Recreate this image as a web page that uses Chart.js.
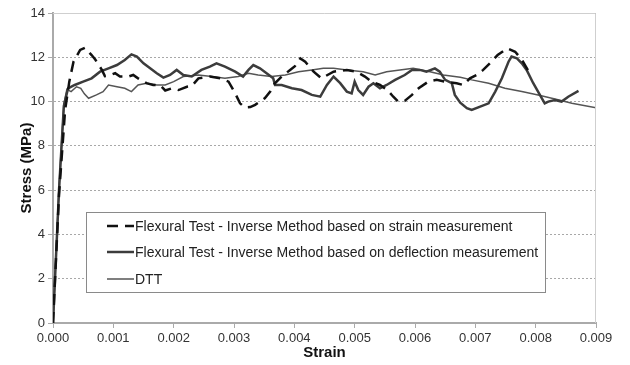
<!DOCTYPE html>
<html>
<head>
<meta charset="utf-8">
<script src="https://cdn.jsdelivr.net/npm/chart.js@4"></script>
<style>
  body { margin: 0; background: #fff; }
  #wrap { width: 630px; height: 365px; }
</style>
</head>
<body>
<div id="wrap"><canvas id="chart" width="630" height="365"></canvas></div>
<script>
const strainX = [0, 0.0001, 0.0002, 0.00027, 0.00034, 0.00045, 0.00053, 0.00064, 0.0007, 0.00081, 0.00086, 0.00095, 0.00103, 0.00111, 0.00125, 0.00133, 0.00141, 0.00155, 0.00166, 0.00177, 0.00186, 0.00197, 0.00208, 0.00222, 0.0023, 0.00241, 0.0026, 0.00277, 0.00291, 0.00302, 0.0031, 0.00318, 0.00327, 0.00335, 0.00351, 0.0036, 0.00367, 0.00378, 0.00393, 0.00401, 0.0041, 0.00418, 0.00432, 0.00445, 0.00465, 0.00487, 0.00503, 0.00517, 0.00528, 0.00542, 0.00555, 0.00564, 0.00572, 0.00583, 0.00595, 0.00606, 0.00622, 0.00636, 0.00653, 0.00669, 0.0068, 0.00691, 0.00702, 0.00713, 0.00724, 0.00737, 0.00753, 0.00766, 0.00777, 0.00788];
const strainY = [0, 5.8, 9.6, 10.9, 11.8, 12.33, 12.43, 12.1, 11.9, 11.43, 11.15, 11.2, 11.28, 11.13, 11.13, 11.2, 11.05, 10.83, 10.75, 10.75, 10.5, 10.6, 10.52, 10.67, 10.7, 11.05, 11.13, 11.05, 10.9, 10.37, 9.92, 9.73, 9.75, 9.85, 10.15, 10.45, 10.8, 11.1, 11.43, 11.6, 11.95, 11.8, 11.35, 11.05, 11.35, 11.43, 11.35, 11.13, 10.9, 10.75, 10.5, 10.22, 10.0, 10.03, 10.3, 10.6, 10.9, 10.98, 10.88, 10.83, 10.75, 11.05, 11.2, 11.43, 11.73, 12.1, 12.4, 12.25, 11.9, 11.38];

const deflX = [0, 0.0001, 0.00018, 0.00025, 0.00036, 0.0005, 0.00064, 0.00078, 0.00092, 0.00106, 0.00119, 0.0013, 0.00139, 0.0015, 0.00161, 0.00172, 0.00183, 0.00194, 0.00205, 0.00216, 0.0023, 0.00246, 0.0026, 0.00271, 0.00285, 0.00302, 0.00315, 0.00324, 0.00332, 0.00343, 0.00354, 0.00365, 0.00368, 0.00379, 0.00396, 0.00412, 0.00429, 0.00443, 0.00454, 0.00465, 0.00476, 0.00487, 0.00495, 0.005, 0.00506, 0.00514, 0.00523, 0.00531, 0.00542, 0.00553, 0.00567, 0.00583, 0.00595, 0.00608, 0.00619, 0.00633, 0.00641, 0.0065, 0.00661, 0.00666, 0.00675, 0.00686, 0.00694, 0.00708, 0.00722, 0.00733, 0.00744, 0.00755, 0.0076, 0.00769, 0.00777, 0.00785, 0.00796, 0.00807, 0.00815, 0.00821, 0.00832, 0.00843, 0.00854, 0.00871];
const deflY = [0, 6, 9.8, 10.6, 10.75, 10.9, 11.05, 11.35, 11.5, 11.65, 11.88, 12.13, 12.03, 11.73, 11.5, 11.28, 11.08, 11.2, 11.43, 11.2, 11.13, 11.43, 11.58, 11.73, 11.58, 11.35, 11.13, 11.43, 11.65, 11.5, 11.28, 11.05, 10.75, 10.75, 10.6, 10.52, 10.3, 10.22, 10.75, 11.13, 10.83, 10.45, 10.37, 10.9, 10.52, 10.3, 10.67, 10.83, 10.6, 10.75, 10.98, 11.2, 11.43, 11.43, 11.35, 11.5, 11.35, 10.98, 10.83, 10.3, 9.95, 9.7, 9.62, 9.77, 9.92, 10.45, 11.05, 11.8, 12.03, 11.95, 11.73, 11.43, 10.83, 10.3, 9.92, 10.0, 10.07, 10.0, 10.22, 10.48];

const dttX = [0, 0.0001, 0.00018, 0.00023, 0.0003, 0.00039, 0.00046, 0.00052, 0.00059, 0.00072, 0.00083, 0.00092, 0.00106, 0.00119, 0.0013, 0.00141, 0.00155, 0.00172, 0.00186, 0.002, 0.00216, 0.00241, 0.00263, 0.00285, 0.00307, 0.00324, 0.0034, 0.00362, 0.00385, 0.00407, 0.00429, 0.00448, 0.00465, 0.00487, 0.00514, 0.00534, 0.00553, 0.00575, 0.00597, 0.00625, 0.00647, 0.00675, 0.00694, 0.00722, 0.00749, 0.00777, 0.00804, 0.00832, 0.0086, 0.009];
const dttY = [0, 6.2, 9.9, 10.55, 10.45, 10.67, 10.6, 10.35, 10.15, 10.3, 10.45, 10.75, 10.67, 10.6, 10.45, 10.75, 10.83, 10.75, 10.75, 10.9, 11.13, 11.2, 11.13, 11.05, 11.13, 11.28, 11.2, 11.13, 11.2, 11.35, 11.43, 11.5, 11.5, 11.43, 11.35, 11.2, 11.35, 11.43, 11.5, 11.35, 11.2, 11.1, 10.98, 10.83, 10.6, 10.45, 10.3, 10.12, 9.92, 9.72];

const seriesNames = [
  "Flexural Test - Inverse Method based on strain measurement",
  "Flexural Test - Inverse Method based on deflection measurement",
  "DTT"
];

const FONT = "'Liberation Sans', Arial, sans-serif";

function zip(xs, ys) {
  return xs.map((x, i) => ({ x: x, y: ys[i] }));
}

// box round the plot area plus the legend inside it
const extras = {
  id: "extras",
  afterDraw(chart) {
    const ctx = chart.ctx;
    const a = chart.chartArea;
    ctx.save();
    ctx.strokeStyle = "#cfcfcf";
    ctx.lineWidth = 1;
    ctx.beginPath();
    ctx.moveTo(a.left, a.top + 0.5);
    ctx.lineTo(a.right - 0.5, a.top + 0.5);
    ctx.lineTo(a.right - 0.5, a.bottom);
    ctx.stroke();

    const bx = 86, by = 212, bw = 459, bh = 80;
    ctx.fillStyle = "#fff";
    ctx.fillRect(bx, by, bw, bh);
    ctx.strokeStyle = "#8a8a8a";
    ctx.strokeRect(bx + 0.5, by + 0.5, bw, bh);

    const rows = [226, 252, 279];
    ctx.font = "14px " + FONT;
    ctx.textBaseline = "middle";
    chart.data.datasets.forEach((ds, i) => {
      const y = rows[i];
      ctx.strokeStyle = ds.borderColor;
      ctx.lineWidth = ds.borderWidth;
      ctx.setLineDash(ds.borderDash || []);
      ctx.beginPath();
      ctx.moveTo(107, y);
      ctx.lineTo(134, y);
      ctx.stroke();
      ctx.setLineDash([]);
      ctx.fillStyle = "#222";
      ctx.fillText(ds.label, 135, y + 1);
    });
    ctx.restore();
  }
};

new Chart(document.getElementById("chart"), {
  type: "scatter",
  data: {
    datasets: [
      {
        label: seriesNames[0],
        data: zip(strainX, strainY),
        borderColor: "#111",
        borderWidth: 2.5,
        borderDash: [11, 7],
        showLine: true,
        pointRadius: 0
      },
      {
        label: seriesNames[1],
        data: zip(deflX, deflY),
        borderColor: "#3c3c3c",
        borderWidth: 2.5,
        showLine: true,
        pointRadius: 0
      },
      {
        label: seriesNames[2],
        data: zip(dttX, dttY),
        borderColor: "#555",
        borderWidth: 1.5,
        showLine: true,
        pointRadius: 0
      }
    ]
  },
  options: {
    responsive: false,
    animation: false,
    layout: { padding: { top: 13, right: 34, left: 0, bottom: 0 } },
    plugins: {
      legend: { display: false },
      tooltip: { enabled: false }
    },
    scales: {
      x: {
        type: "linear",
        min: 0,
        max: 0.009,
        afterFit(scale) { scale.height = 42; },
        ticks: {
          stepSize: 0.001,
          padding: 3,
          color: "#333",
          font: { family: FONT, size: 13 },
          maxRotation: 0,
          callback: v => v.toFixed(3)
        },
        grid: {
          drawOnChartArea: false,
          drawTicks: true,
          tickLength: 5,
          tickColor: "#aaa",
          tickWidth: 1
        },
        border: { color: "#aaa", width: 2 },
        title: {
          display: true,
          text: "Strain",
          color: "#111",
          font: { family: FONT, size: 15, weight: "bold", lineHeight: 1.2 },
          padding: { top: 0, bottom: 3 }
        }
      },
      y: {
        min: 0,
        max: 14,
        afterFit(scale) { scale.width = 53; },
        ticks: {
          stepSize: 2,
          padding: 3,
          color: "#333",
          font: { family: FONT, size: 13 }
        },
        grid: {
          color: "#a8a8a8",
          lineWidth: 1,
          tickLength: 5,
          tickColor: "#aaa",
          tickBorderDash: []
        },
        border: { color: "#aaa", width: 2, dash: [2, 2] },
        title: {
          display: true,
          text: "Stress (MPa)",
          color: "#111",
          font: { family: FONT, size: 15, weight: "bold", lineHeight: 1.2 },
          padding: { top: 18, bottom: 0 }
        }
      }
    }
  },
  plugins: [extras]
});
</script>
</body>
</html>
